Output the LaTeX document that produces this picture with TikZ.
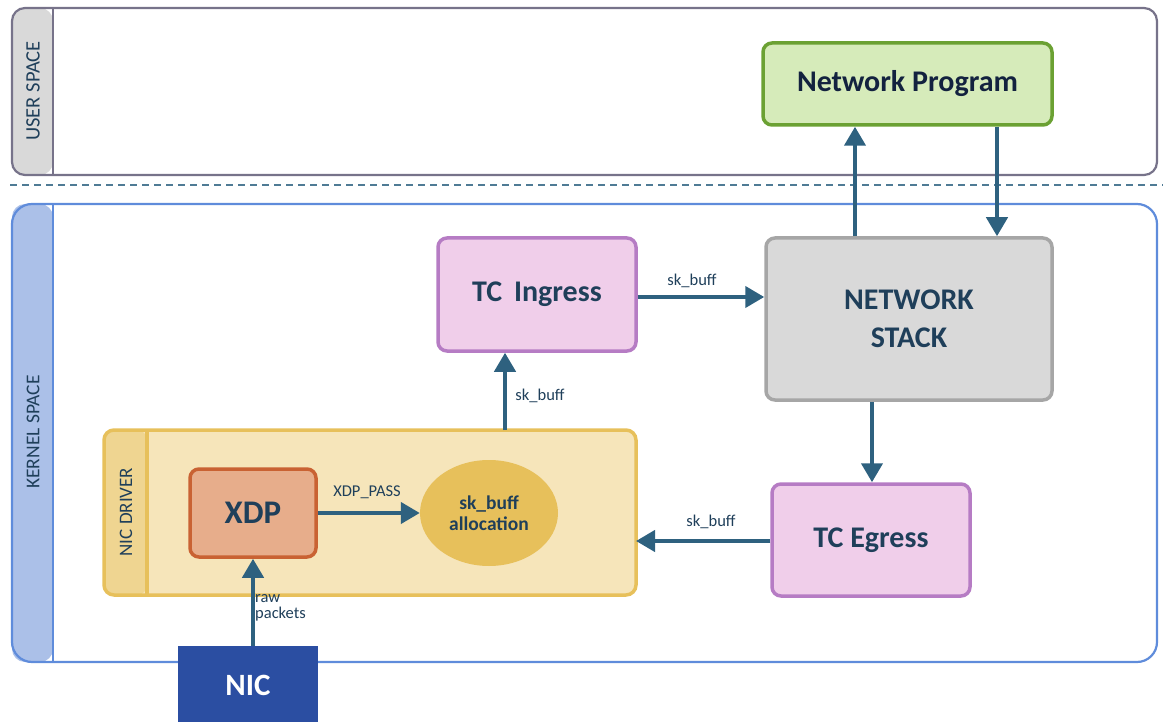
\documentclass[tikz,border=0pt]{standalone}
\usepackage{fontspec}
\setmainfont{Carlito}
\usetikzlibrary{arrows.meta,shapes.geometric}
\definecolor{ink}{HTML}{1F3F5A}
\definecolor{arrowc}{HTML}{2E617F}
\definecolor{usergray}{HTML}{77738A}
\definecolor{userfill}{HTML}{D9D9D9}
\definecolor{kernblue}{HTML}{5F8CDB}
\definecolor{kernfill}{HTML}{ABC0E8}
\definecolor{drvfill}{HTML}{F6E5BA}
\definecolor{drvstrip}{HTML}{EFD591}
\definecolor{drvline}{HTML}{E7C05B}
\definecolor{xdpfill}{HTML}{E7AD8B}
\definecolor{xdpline}{HTML}{C96233}
\definecolor{tcfill}{HTML}{F0CEEA}
\definecolor{tcline}{HTML}{B67CC4}
\definecolor{stkline}{HTML}{A6A6A6}
\definecolor{progfill}{HTML}{D6EBBA}
\definecolor{progline}{HTML}{6BA133}
\definecolor{progink}{HTML}{13223F}
\definecolor{nicfill}{HTML}{2B4EA2}
\definecolor{dashc}{HTML}{4F7B95}
\tikzset{
  box/.style={rounded corners=9pt, line width=3.5pt, align=center, text=ink, font=\fontsize{30}{33}\selectfont\bfseries},
  flow/.style={draw=arrowc, line width=4.2pt, -{Triangle[width=21pt,length=19pt]}},
  lbl/.style={text=ink, font=\fontsize{16.5}{17}\selectfont, inner sep=0pt},
  vlabel/.style={rotate=90, text=ink, font=\fontsize{20.5}{22}\selectfont}
}
\begin{document}
\begin{tikzpicture}[x=1pt,y=-1pt]
\useasboundingbox (0,0) rectangle (1163,722);

% user space band
\fill[userfill, rounded corners=13pt] (12,8) rectangle (53,175);
\draw[usergray, line width=2.2pt, rounded corners=13pt] (12,8) rectangle (1157,175);
\draw[usergray, line width=2.2pt] (53,8) -- (53,175);
\node[vlabel] (user) at (33,91) {USER SPACE};

% boundary between the two spaces
\draw[dashc, line width=1.5pt, dash pattern=on 7pt off 5pt] (10,185) -- (1163,185);

% kernel space band
\fill[kernfill, rounded corners=13pt] (12,204) rectangle (53,662);
\draw[kernblue, line width=2.2pt, rounded corners=20pt] (12,204) rectangle (1157,662);
\draw[kernblue, line width=2.2pt] (53,204) -- (53,662);
\node[vlabel, font=\fontsize{19.5}{21}\selectfont] (kernel) at (33,432) {KERNEL SPACE};

% NIC driver container
\fill[drvfill, rounded corners=10pt] (104,430) rectangle (636,595);
\fill[drvstrip, rounded corners=10pt] (104,430) rectangle (147,595);
\draw[drvline, line width=3.5pt] (147,430) -- (147,595);
\draw[drvline, line width=3.5pt, rounded corners=10pt] (104,430) rectangle (636,595);
\node[rotate=90, text=ink, font=\fontsize{19}{21}\selectfont] (drvlabel) at (126,512) {NIC DRIVER};
\coordinate (drvtop) at (505,430);
\coordinate (drvright) at (636,541);

% nodes
\node[box, draw=xdpline, fill=xdpfill, minimum width=126pt, minimum height=88pt, font=\fontsize{33}{35}\selectfont\bfseries] (xdp) at (253,513) {XDP};
\node[ellipse, fill=drvline, minimum width=138pt, minimum height=106pt, inner sep=0pt, align=center, text=ink, font=\fontsize{19.5}{20.5}\selectfont\bfseries] (alloc) at (489,513) {sk\_buff\\allocation};
\node[fill=nicfill, minimum width=140pt, minimum height=78pt, inner sep=0pt, text=white, font=\fontsize{31}{32}\selectfont\bfseries] (nic) at (248,685) {NIC};
\node[box, draw=tcline, fill=tcfill, minimum width=198pt, minimum height=113pt] (ingress) at (537,294.5) {TC\, Ingress};
\node[box, draw=stkline, fill=userfill, minimum width=286pt, minimum height=162pt, font=\fontsize{30}{38}\selectfont\bfseries] (stack) at (909,319) {NETWORK\\STACK};
\node[box, draw=progline, fill=progfill, minimum width=289pt, minimum height=82pt, text=progink] (prog) at (907.5,84) {Network Program};
\node[box, draw=tcline, fill=tcfill, minimum width=198pt, minimum height=112pt] (egress) at (871,540) {TC Egress};

% connectors
\draw[flow] (nic.north -| xdp.south) -- (xdp.south);
\node[lbl, anchor=north west, align=left, font=\fontsize{16.5}{16.5}\selectfont] (rawlbl) at (255,594) {raw\\packets};
\draw[flow] (xdp.east) -- (alloc.west);
\node[lbl] (passlbl) at (367,492) {XDP\_PASS};
\draw[flow] (drvtop) -- (drvtop |- ingress.south);
\node[lbl] (l1) at (540,396) {sk\_buff};
\draw[flow] (ingress.east |- 0,297) -- (stack.west |- 0,297);
\node[lbl] (l2) at (692,281) {sk\_buff};
\draw[flow] (855,0 |- stack.north) -- (855,0 |- prog.south);
\draw[flow] (997,0 |- prog.south) -- (997,0 |- stack.north);
\draw[flow] (872,0 |- stack.south) -- (872,0 |- egress.north);
\draw[flow] (egress.west |- drvright) -- (drvright);
\node[lbl] (l3) at (711,522) {sk\_buff};
\end{tikzpicture}
\end{document}
